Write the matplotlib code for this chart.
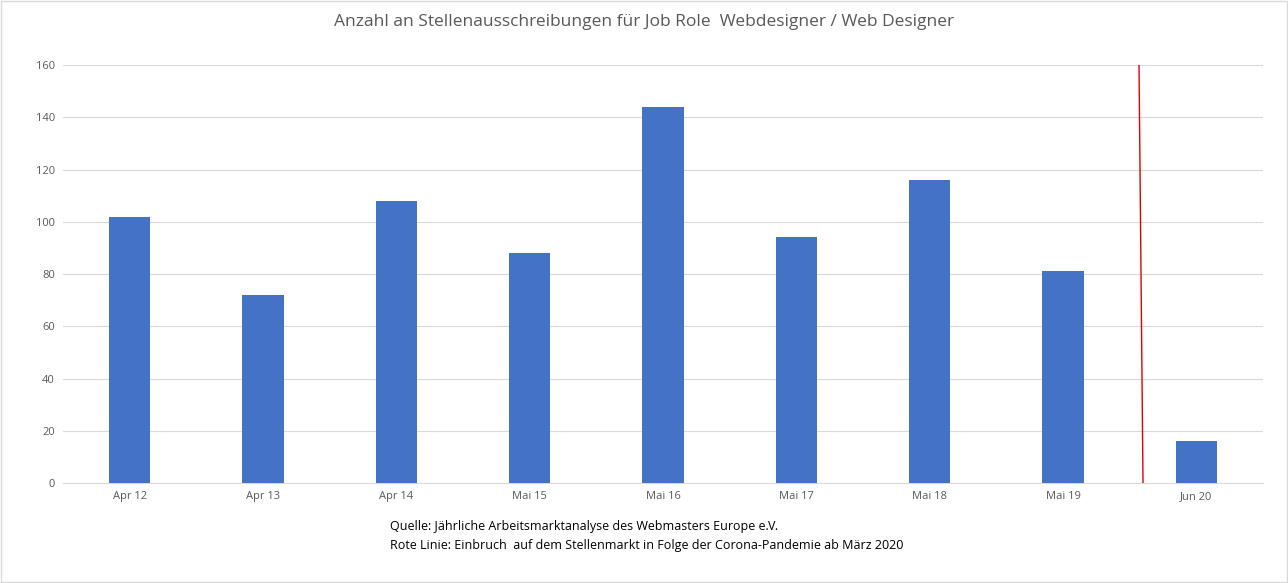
import matplotlib
matplotlib.use("Agg")
import matplotlib.pyplot as plt
from matplotlib.patches import Rectangle

categories = ["Apr 12", "Apr 13", "Apr 14", "Mai 15", "Mai 16", "Mai 17", "Mai 18", "Mai 19", "Jun 20"]
values = [102, 72, 108, 88, 144, 94, 116, 81, 16]
yticks = [0, 20, 40, 60, 80, 100, 120, 140, 160]

plt.rcParams["font.family"] = "Open Sans"
fig = plt.figure(figsize=(12.88, 5.83), dpi=100)
fig.patches.append(Rectangle((0.001, 0.001), 0.998, 0.997, transform=fig.transFigure,
                             fill=False, edgecolor="#d9d9d9", linewidth=1))
ax = fig.add_axes([0.0489, 0.1715, 0.9317, 0.717])
x = list(range(len(categories)))
ax.bar(x, values, width=0.31, color="#4472c4", zorder=3)
ax.set_xlim(-0.5, len(categories) - 0.5)
ax.set_ylim(0, 160)
ax.set_yticks(yticks)
ax.set_xticks(x)
ax.set_xticklabels(categories)
ax.tick_params(axis="both", length=0, labelsize=8, colors="#595959", pad=6)
ax.grid(axis="y", color="#d9d9d9", linewidth=0.8, zorder=0)
for s in ["top", "right", "left"]:
    ax.spines[s].set_visible(False)
ax.spines["bottom"].set_color("#d9d9d9")
ax.plot([7.57, 7.6], [160, 0], color="#e00000", linewidth=1, zorder=4)

fig.text(0.5, 0.963, "Anzahl an Stellenausschreibungen für Job Role  Webdesigner / Web Designer",
         ha="center", va="center", fontsize=12.5, color="#595959")
fig.text(0.3028, 0.097, "Quelle: Jährliche Arbeitsmarktanalyse des Webmasters Europe e.V.",
         ha="left", va="center", fontsize=9, color="black")
fig.text(0.3028, 0.064, "Rote Linie: Einbruch  auf dem Stellenmarkt in Folge der Corona-Pandemie ab März 2020",
         ha="left", va="center", fontsize=9, color="black")
fig.savefig("out.png", dpi=100)
